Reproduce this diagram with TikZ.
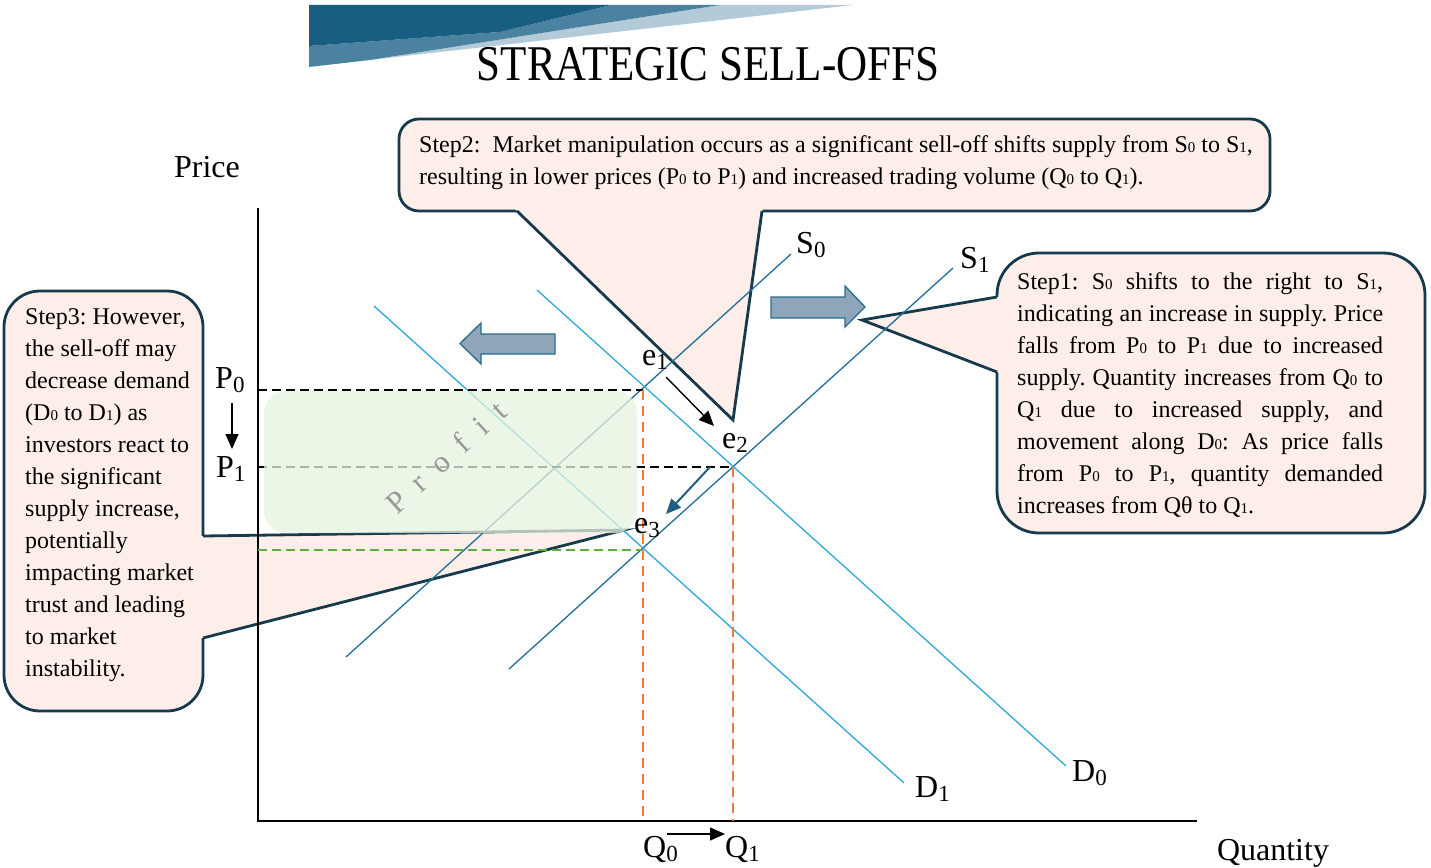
\documentclass[tikz,border=0pt]{standalone}
\usepackage{fontspec}
\setmainfont{Liberation Serif}
\usetikzlibrary{arrows.meta}
\definecolor{cfill}{HTML}{FDEEE9}
\definecolor{cborder}{HTML}{17394C}
\definecolor{sline}{HTML}{216E96}
\definecolor{dline}{HTML}{2FA6DC}
\definecolor{bdark}{HTML}{185E80}
\definecolor{bmed}{HTML}{4A82A0}
\definecolor{blight}{HTML}{B3CBD8}
\definecolor{barrowfill}{HTML}{8FA6BA}
\definecolor{barrowline}{HTML}{2B6A8B}
\definecolor{profitfill}{HTML}{E6F3DF}
\definecolor{qorange}{HTML}{EE7D3A}
\definecolor{pgreen}{HTML}{5BAF3A}
\definecolor{bluearrow}{HTML}{1E5E80}
\newcommand\lsub[1]{\raisebox{-0.3ex}{\fontsize{23}{23}\selectfont #1}}
\newcommand\tsub[1]{{\fontsize{15}{15}\selectfont #1}}
\newcommand\jline[1]{\makebox[\linewidth][s]{#1}}
\frenchspacing
\begin{document}
\begin{tikzpicture}[x=1pt,y=-1pt,
  callout/.style={fill=cfill,draw=cborder,line width=2.8pt},
  pointer/.style={draw=cborder,line width=2.8pt,line join=miter},
  axis/.style={line width=1.6pt,black},
  supply/.style={draw=sline,line width=1.3pt},
  demand/.style={draw=dline,line width=1.3pt},
  dashblack/.style={black,line width=1.6pt,dash pattern=on 9pt off 5pt},
  dashorange/.style={qorange,line width=1.8pt,dash pattern=on 10pt off 6pt},
  dashgreen/.style={pgreen,line width=1.6pt,dash pattern=on 9pt off 5pt},
  lbl/.style={font=\fontsize{32}{36}\selectfont,inner sep=0pt,anchor=base west},
  blockarrow/.style={fill=barrowfill,draw=barrowline,line width=1.3pt,line join=miter},
  txt/.style={inner sep=0pt,anchor=base west},
  smallarrow/.style={-{Triangle[length=15pt,width=13pt]},line width=1.4pt}
]
\useasboundingbox (0,0) rectangle (1431,867);
% banner
\fill[blight] (370,60) -- (720,5) -- (853,5) -- cycle;
\fill[bmed] (309,46) -- (500,32) -- (611,5) -- (720,5) -- (370,60) -- (309,67) -- cycle;
\fill[bdark] (309,5) -- (611,5) -- (500,32) -- (309,46) -- cycle;
\node[inner sep=0pt,anchor=base] (title) at (708,80) {\scalebox{0.86}[1]{\fontsize{50}{54}\selectfont STRATEGIC SELL-OFFS}};

% callout shapes
\draw[callout,rounded corners=20pt] (399,119) rectangle (1270,211);
\fill[cfill] (513,207) -- (733,420) -- (763,207) -- cycle;
\draw[pointer] (517,211) -- (733,420) -- (762,211);

\draw[callout,rounded corners=42pt] (997,253) rectangle (1425,533);
\fill[cfill] (1001,296.3) -- (862,320) -- (1001,373.5) -- cycle;
\draw[pointer] (997,297) -- (862,320) -- (997,372);

\draw[callout,rounded corners=36pt] (4,291) rectangle (203,711);
\fill[cfill] (199,536.1) -- (624,530) -- (199,639) -- cycle;
\draw[pointer] (203,536) -- (624,530) -- (203,638);

% axes
\coordinate (O) at (258,821);
\coordinate (ytop) at (258,208);
\coordinate (xend) at (1197,821);
\draw[axis] (ytop) -- (O) -- (xend);

% curves
\coordinate (s0a) at (346,657); \coordinate (s0b) at (791,254);
\coordinate (s1a) at (509,669); \coordinate (s1b) at (953,268);
\coordinate (d0a) at (537,290); \coordinate (d0b) at (1066,766);
\coordinate (d1a) at (374,306); \coordinate (d1b) at (904,783);
\draw[supply] (s0a) -- (s0b);
\draw[supply] (s1a) -- (s1b);
\draw[demand] (d0a) -- (d0b);
\draw[demand] (d1a) -- (d1b);

% equilibria
\coordinate (e1) at (643,390);
\coordinate (e2) at (733,467);
\coordinate (e3) at (643,550);
\coordinate (yP0) at (258,390);
\coordinate (yP1) at (258,467);
\coordinate (yP2) at (258,550);
\coordinate (xQ0) at (643,821);
\coordinate (xQ1) at (733,821);
\draw[dashblack] (yP0) -- (e1);
\draw[dashblack] (yP1) -- (e2);
\draw[dashgreen] (yP2) -- (e3);
\draw[dashorange] (e1) -- (xQ0);
\draw[dashorange] (e2) -- (xQ1);

% profit box
\fill[profitfill,opacity=0.75,rounded corners=22pt] (264,391) rectangle (637,533);
\node[rotate=42,text=black!40,inner sep=0pt] (profit) at (446,457)
  {\fontsize{31}{31}\selectfont P\hspace{16pt}r\hspace{16pt}o\hspace{16pt}f\hspace{16pt}i\hspace{16pt}t};

% labels
\node[lbl] (lS0) at (796,253) {S\lsub{0}};
\node[lbl] (lS1) at (960,268) {S\lsub{1}};
\node[lbl] (lD0) at (1072,781) {D\lsub{0}};
\node[lbl] (lD1) at (915,797) {D\lsub{1}};
\node[lbl] (le1) at (642,365) {e\lsub{1}};
\node[lbl] (le2) at (722,448) {e\lsub{2}};
\node[lbl] (le3) at (634,533) {e\lsub{3}};
\node[lbl] (lP0) at (215,388) {P\lsub{0}};
\node[lbl] (lP1) at (216,477) {P\lsub{1}};
\node[lbl] (lQ0) at (643,857) {Q\lsub{0}};
\node[lbl] (lQ1) at (725,857) {Q\lsub{1}};
\node[lbl,anchor=base] (price) at (207,177) {Price};
\node[lbl,anchor=base] (qty) at (1273,860) {Quantity};

% small arrows
\coordinate (a1s) at (666,377); \coordinate (a1e) at (714,426);
\draw[smallarrow,black] (a1s) -- (a1e);
\coordinate (a2s) at (710,467); \coordinate (a2e) at (666,514);
\draw[smallarrow,bluearrow,line width=2pt] (a2s) -- (a2e);
\coordinate (a3s) at (232,403); \coordinate (a3e) at (232,449);
\draw[smallarrow,black] (a3s) -- (a3e);
\coordinate (a4s) at (667,834); \coordinate (a4e) at (725,834);
\draw[smallarrow,black] (a4s) -- (a4e);

% block arrows
\draw[blockarrow] (555,334) -- (481,334) -- (481,323) -- (460,343.5) -- (481,364) -- (481,354) -- (555,354) -- cycle;
\draw[blockarrow] (771,297) -- (845,297) -- (845,286) -- (865,307) -- (845,327) -- (845,318) -- (771,318) -- cycle;

% callout texts
\node[txt] (t2) at (419,152) {\parbox[t]{845pt}{\fontsize{24}{32}\selectfont
Step2:\ \ Market manipulation occurs as a significant sell-off shifts supply from S\tsub{0} to S\tsub{1},\\
resulting in lower prices (P\tsub{0} to P\tsub{1}) and increased trading volume (Q\tsub{0} to Q\tsub{1}).}};

\node[txt] (t1) at (1017,289) {\parbox[t]{366pt}{\fontsize{24}{32}\selectfont
\jline{Step1: S\tsub{0} shifts to the right to S\tsub{1},}\\
\jline{indicating an increase in supply. Price}\\
\jline{falls from P\tsub{0} to P\tsub{1} due to increased}\\
\jline{supply. Quantity increases from Q\tsub{0} to}\\
\jline{Q\tsub{1} due to increased supply, and}\\
\jline{movement along D\tsub{0}: As price falls}\\
\jline{from P\tsub{0} to P\tsub{1}, quantity demanded}\\
increases from Qθ to Q\tsub{1}.}};

\node[txt] (t3) at (25,324) {\parbox[t]{175pt}{\fontsize{24}{32}\selectfont
Step3: However,\\
the sell-off may\\
decrease demand\\
(D\tsub{0} to D\tsub{1}) as\\
investors react to\\
the significant\\
supply increase,\\
potentially\\
impacting market\\
trust and leading\\
to market\\
instability.}};
\end{tikzpicture}
\end{document}
